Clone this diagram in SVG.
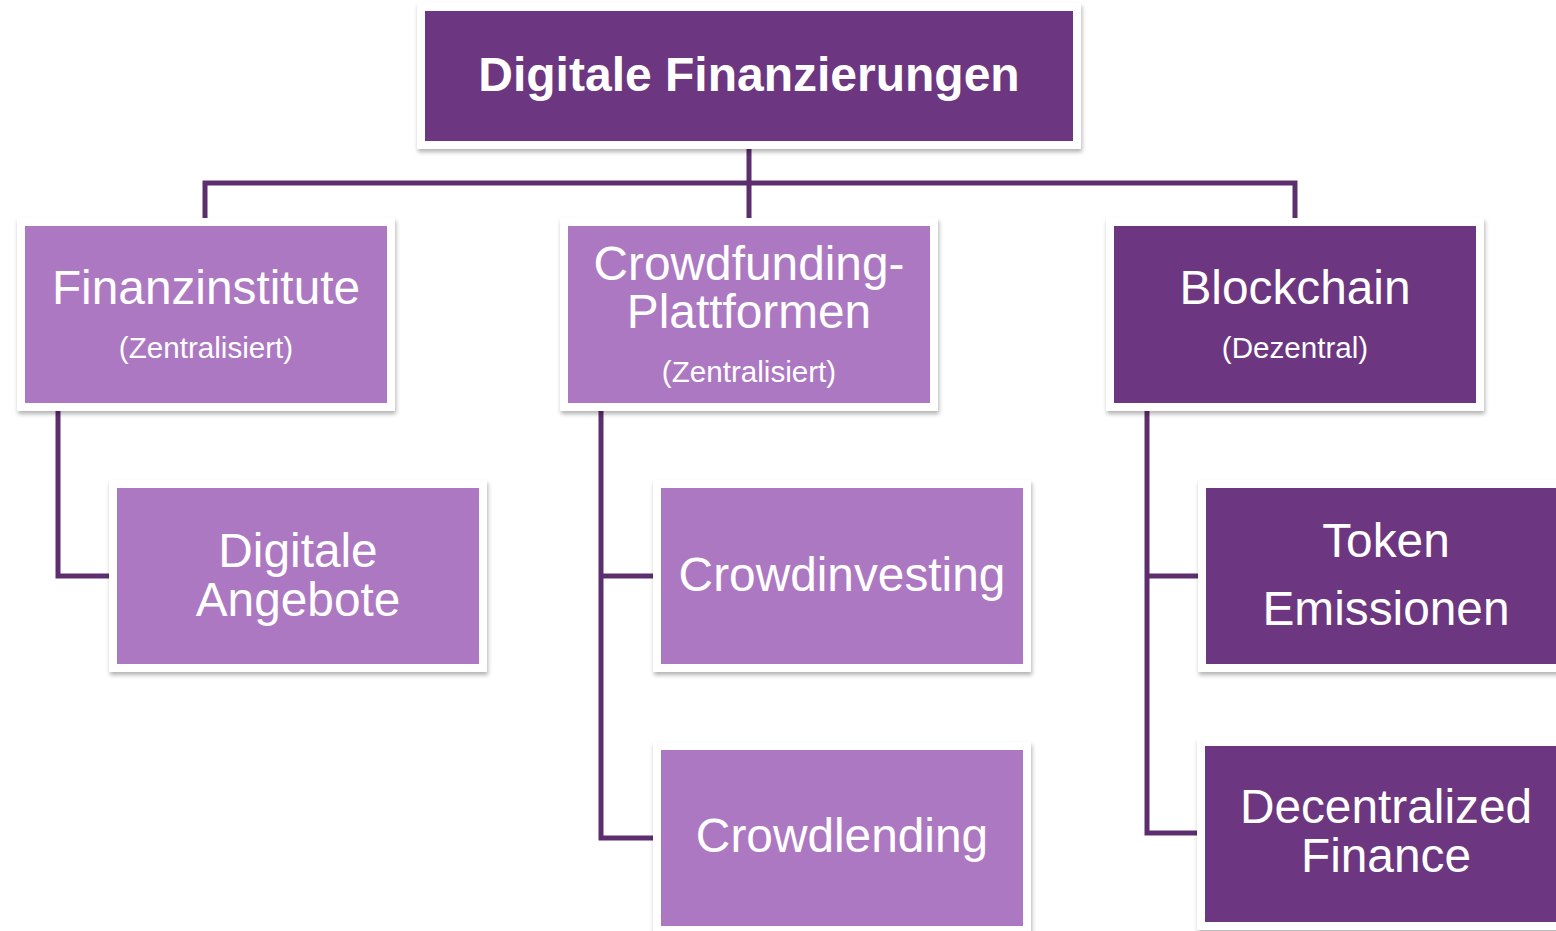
<svg xmlns="http://www.w3.org/2000/svg" width="1556" height="931" viewBox="0 0 1556 931">
<style>
.frame{fill:#ffffff;filter:url(#sh)}
.dark{fill:#6C3780}
.light{fill:#AD78C2}
.t{font-family:"Liberation Sans",Arial,sans-serif;fill:#ffffff;text-anchor:middle}
.big{font-size:47.8px}
.small{font-size:29.6px}
.conn{fill:none;stroke:#5C2E6E;stroke-width:5;stroke-linejoin:miter}
</style>
<defs>
<filter id="sh" x="-5%" y="-5%" width="110%" height="115%">
<feDropShadow dx="1" dy="3" stdDeviation="2" flood-color="#000000" flood-opacity="0.3"/>
</filter>
</defs>
<rect width="1556" height="931" fill="#ffffff"/>
<g id="connectors">
<path class="conn" d="M749 149 V218 M205 218 V183 H1295 V218"/>
<path class="conn" d="M58 411 V576 H112"/>
<path class="conn" d="M601 411 V838 H656 M601 576 H656"/>
<path class="conn" d="M1147 411 V833 H1200 M1147 576 H1200"/>
</g>
<g id="n-root">
<rect class="frame" x="417" y="3" width="664" height="146"/>
<rect class="dark" x="425" y="11" width="648" height="130"/>
<text class="t" x="749" y="91" font-size="48" font-weight="bold">Digitale Finanzierungen</text>
</g>
<g id="n-finanz">
<rect class="frame" x="17" y="218" width="378" height="193"/>
<rect class="light" x="25" y="226" width="362" height="177"/>
<text class="t big" x="206" y="304">Finanzinstitute</text>
<text class="t small" x="206" y="358">(Zentralisiert)</text>
</g>
<g id="n-crowdfunding">
<rect class="frame" x="560" y="218" width="378" height="193"/>
<rect class="light" x="568" y="226" width="362" height="177"/>
<text class="t big" x="749" y="280">Crowdfunding-</text>
<text class="t big" x="749" y="328">Plattformen</text>
<text class="t small" x="749" y="382">(Zentralisiert)</text>
</g>
<g id="n-blockchain">
<rect class="frame" x="1106" y="218" width="378" height="193"/>
<rect class="dark" x="1114" y="226" width="362" height="177"/>
<text class="t big" x="1295" y="304">Blockchain</text>
<text class="t small" x="1295" y="358">(Dezentral)</text>
</g>
<g id="n-digitale">
<rect class="frame" x="109" y="480" width="378" height="192"/>
<rect class="light" x="117" y="488" width="362" height="176"/>
<text class="t big" x="298" y="567">Digitale</text>
<text class="t big" x="298" y="616">Angebote</text>
</g>
<g id="n-crowdinvesting">
<rect class="frame" x="653" y="480" width="378" height="192"/>
<rect class="light" x="661" y="488" width="362" height="176"/>
<text class="t big" x="842" y="591">Crowdinvesting</text>
</g>
<g id="n-crowdlending">
<rect class="frame" x="653" y="742" width="378" height="192"/>
<rect class="light" x="661" y="750" width="362" height="176"/>
<text class="t big" x="842" y="852">Crowdlending</text>
</g>
<g id="n-token">
<rect class="frame" x="1198" y="480" width="378" height="192"/>
<rect class="dark" x="1206" y="488" width="362" height="176"/>
<text class="t big" x="1386" y="557">Token</text>
<text class="t big" x="1386" y="625">Emissionen</text>
</g>
<g id="n-defi">
<rect class="frame" x="1197" y="738" width="378" height="192"/>
<rect class="dark" x="1205" y="746" width="362" height="176"/>
<text class="t big" x="1386" y="823">Decentralized</text>
<text class="t big" x="1386" y="872">Finance</text>
</g>
</svg>
